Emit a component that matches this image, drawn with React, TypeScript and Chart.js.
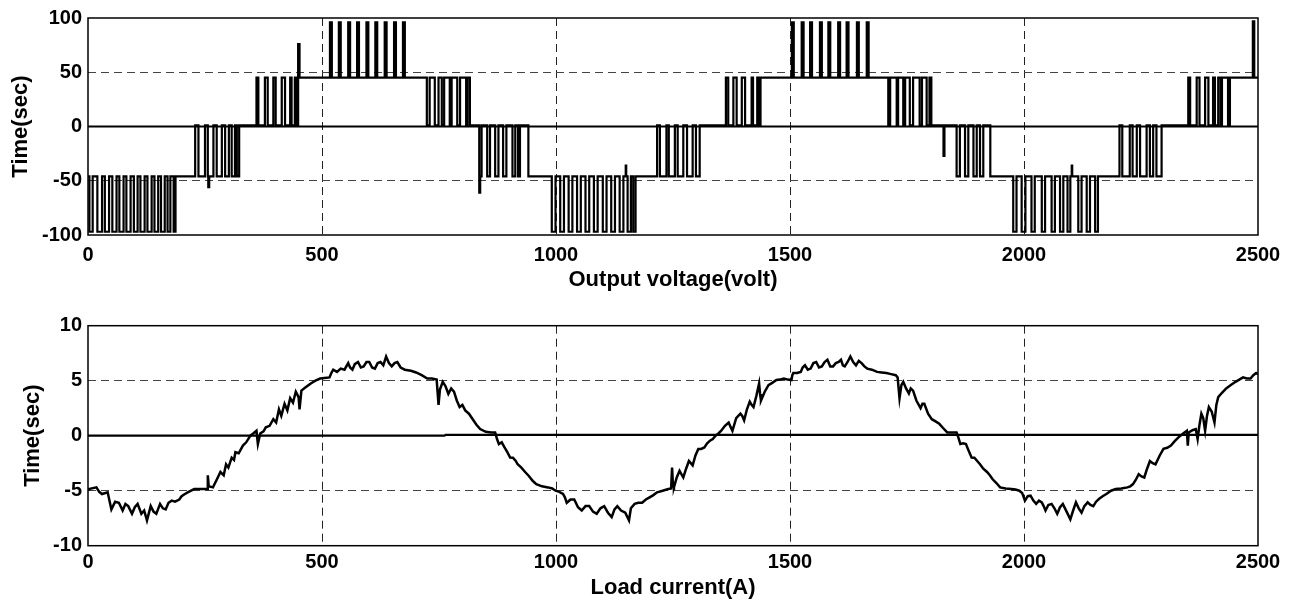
import React, { useEffect, useRef } from "react";
import Chart from "chart.js/auto";

// ---------- data ----------
const xTicks = [0, 500, 1000, 1500, 2000, 2500];
const voltageTicks = [-100, -50, 0, 50, 100];
const currentTicks = [-10, -5, 0, 5, 10];

const topXTitle = "Output voltage(volt)";
const bottomXTitle = "Load current(A)";
const yTitle = "Time(sec)";

// [time, level from this time on]
const voltageSteps: [number, number][] = [
  [0, -46],
  [3, -97], [10, -46], [20, -97], [30, -46], [36, -97], [45, -46], [52, -97], [61, -46], [67, -97], [76, -46],
  [82, -97], [91, -46], [98, -97], [106, -46], [112, -97], [121, -46], [127, -97], [136, -46], [142, -97], [150, -46],
  [156, -97], [164, -46], [170, -97], [176, -46], [183, -97], [187, -46],
  [229, 1], [236, -46], [250, 1], [256, -46], [257, -56], [259, -46], [268, 1], [275, -46], [286, 1], [293, -46],
  [301, 1], [307, -46], [314, 1], [318, -46], [323, 1],
  [360, 45], [364, 1], [378, 45], [384, 1], [396, 45], [401, 1], [414, 45], [421, 1], [432, 45], [435, 1],
  [442, 45], [446, 1], [449, 76], [452, 45],
  [517, 96], [521, 45], [536, 96], [540, 45], [556, 96], [560, 45], [575, 96], [579, 45], [595, 96], [599, 45],
  [614, 96], [618, 45], [634, 96], [638, 45], [654, 96], [658, 45], [673, 96], [677, 45],
  [724, 1], [730, 45], [741, 1], [749, 45], [756, 1], [761, 45], [773, 1], [777, 45], [789, 1], [795, 45],
  [808, 1], [811, 45], [816, 1],
  [836, -61], [838, -46], [841, 1], [853, -46], [859, 1], [870, -46], [877, 1], [887, -46], [894, 1], [907, -46],
  [913, 1], [919, -46], [923, 1], [941, -46],
  [991, -97], [999, -46], [1009, -97], [1017, -46], [1027, -97], [1035, -46], [1045, -97], [1053, -46],
  [1063, -97], [1071, -46], [1081, -97], [1089, -46], [1100, -97], [1108, -46], [1118, -97], [1126, -46],
  [1136, -97], [1144, -46], [1149, -36], [1150, -46], [1153, -97], [1160, -46], [1165, -97], [1170, -46],
  [1216, 1], [1222, -46], [1236, 1], [1241, -46], [1254, 1], [1260, -46], [1272, 1], [1280, -46], [1292, 1],
  [1299, -46], [1307, 1],
  [1363, 45], [1368, 1], [1379, 45], [1386, 1], [1397, 45], [1404, 1], [1418, 45], [1421, 1], [1430, 45],
  [1434, 1], [1437, 45],
  [1504, 96], [1508, 45], [1525, 96], [1529, 45], [1543, 96], [1547, 45], [1564, 96], [1568, 45], [1582, 96],
  [1586, 45], [1603, 96], [1607, 45], [1621, 96], [1625, 45], [1643, 96], [1647, 45], [1664, 96], [1668, 45],
  [1710, 1], [1714, 45], [1728, 1], [1731, 45], [1742, 1], [1746, 45], [1756, 1], [1763, 45], [1777, 1],
  [1782, 45], [1792, 1], [1798, 45], [1802, 1],
  [1828, -27], [1830, 1],
  [1856, -46], [1863, 1], [1874, -46], [1881, 1], [1892, -46], [1899, 1], [1906, -46], [1913, 1], [1928, -46],
  [1977, -97], [1984, -46], [1995, -97], [2003, -46], [2016, -97], [2023, -46], [2038, -97], [2045, -46],
  [2059, -97], [2066, -46], [2077, -97], [2084, -46], [2093, -97], [2099, -46], [2102, -36], [2103, -46],
  [2116, -97], [2123, -46], [2134, -97], [2141, -46], [2152, -97], [2158, -46],
  [2204, 1], [2210, -46], [2226, 1], [2232, -46], [2241, 1], [2248, -46], [2262, 1], [2269, -46], [2276, 1],
  [2283, -46], [2294, 1],
  [2351, 45], [2355, 1], [2369, 45], [2375, 1], [2387, 45], [2394, 1], [2404, 45], [2408, 1], [2415, 45],
  [2420, 1], [2423, 45], [2436, 1], [2440, 45], [2489, 97], [2492, 45], [2500, 45],
];

const voltageZeroRef: [number, number][] = [[0, 0], [2500, 0]];

const currentPoints: [number, number][] = [
  [0, -4.9], [2, -4.85], [18, -4.7], [24, -5.1], [30, -5.3], [42, -5.15], [50, -6.7], [58, -6.0], [66, -6.1],
  [74, -6.8], [80, -6.2], [86, -6.4], [94, -7.1], [100, -6.5], [106, -6.2], [114, -7.1], [120, -6.8], [126, -7.7],
  [134, -6.4], [140, -6.9], [146, -7.1], [154, -6.2], [160, -6.6], [166, -6.7], [172, -6.1], [179, -5.9],
  [186, -6.0], [195, -5.8], [200, -5.5], [207, -5.3], [215, -5.1], [227, -4.85], [240, -4.85], [255, -4.85],
  [256, -3.6], [258, -4.6], [267, -4.7], [275, -4.0], [283, -3.3], [290, -3.6], [295, -2.6], [300, -2.9],
  [307, -2.0], [312, -2.2], [315, -1.5], [322, -1.6], [331, -0.9], [338, -0.6], [347, 0], [353, 0.2],
  [360, 0.45], [363, -0.76], [368, 0.2], [375, 0.4], [380, 0.76], [388, 0.9], [396, 1.5], [402, 1.2],
  [408, 2.4], [413, 1.8], [420, 2.9], [426, 2.3], [432, 3.4], [438, 3.0], [444, 4.0], [450, 3.5], [452, 2.4],
  [456, 4.1], [465, 4.4], [476, 4.75], [486, 5.0], [496, 5.2], [505, 5.25], [516, 5.3], [520, 5.7], [524, 6.0],
  [532, 5.8], [540, 6.1], [548, 6.0], [556, 6.6], [560, 6.2], [565, 6.0], [570, 6.5], [577, 6.7], [583, 6.2],
  [589, 6.3], [595, 6.7], [601, 6.7], [607, 6.2], [613, 6.1], [619, 6.6], [625, 6.7], [631, 6.4], [637, 7.2],
  [643, 6.6], [649, 6.3], [655, 6.6], [661, 6.7], [668, 6.2], [677, 6.0], [690, 5.9], [701, 5.75], [713, 5.5],
  [725, 5.2], [735, 5.2], [745, 5.1], [749, 2.8], [752, 4.2], [758, 4.9], [764, 4.5], [770, 3.8], [776, 4.3],
  [782, 4.0], [788, 3.2], [794, 2.6], [800, 2.8], [806, 2.3], [814, 2.0], [822, 1.5], [830, 1.0], [838, 0.6],
  [850, 0.35], [862, 0.3], [870, 0.3], [874, -0.3], [878, -0.76], [884, -0.6], [890, -1.07], [896, -1.5],
  [902, -1.98], [908, -2.0], [914, -2.3], [918, -2.6], [926, -2.9], [934, -3.3], [942, -3.66], [950, -4.1],
  [958, -4.4], [970, -4.6], [983, -4.7], [992, -4.8], [999, -5.0], [1007, -5.1], [1015, -5.3], [1019, -5.6],
  [1023, -6.1], [1031, -5.8], [1039, -5.8], [1047, -6.5], [1055, -6.8], [1063, -6.4], [1071, -6.4],
  [1079, -6.9], [1087, -7.1], [1095, -6.6], [1103, -6.4], [1111, -7.0], [1119, -7.4], [1125, -6.7],
  [1131, -6.4], [1139, -6.8], [1148, -7.0], [1156, -7.7], [1160, -6.6], [1168, -6.2], [1176, -6.1],
  [1184, -6.1], [1192, -5.8], [1200, -5.6], [1208, -5.4], [1216, -5.15], [1228, -5.0], [1240, -4.85],
  [1246, -4.8], [1248, -2.9], [1250, -4.6], [1252, -4.7], [1258, -3.8], [1264, -3.2], [1272, -3.8],
  [1278, -3.0], [1284, -2.3], [1292, -2.7], [1298, -1.8], [1304, -1.2], [1310, -1.2], [1317, -1.07],
  [1323, -0.7], [1329, -0.45], [1335, -0.3], [1341, 0], [1347, 0.2], [1353, 0.45], [1361, 0.9], [1369, 1.2],
  [1373, 0.8], [1377, 0.45], [1385, 1.6], [1394, 2.0], [1398, 1.8], [1402, 1.4], [1408, 2.4], [1414, 3.1],
  [1418, 2.8], [1422, 2.6], [1428, 3.6], [1434, 4.75], [1436, 3.8], [1438, 3.2], [1446, 4.0], [1454, 4.6],
  [1462, 4.8], [1471, 5.06], [1478, 5.1], [1487, 5.2], [1495, 5.1], [1503, 5.06], [1505, 5.5], [1507, 5.7],
  [1515, 5.7], [1523, 5.8], [1527, 6.2], [1532, 6.4], [1538, 6.0], [1544, 6.1], [1550, 6.6], [1556, 6.7],
  [1562, 6.2], [1568, 6.3], [1574, 6.7], [1580, 6.9], [1586, 6.3], [1592, 6.3], [1598, 6.6], [1604, 6.7],
  [1609, 6.9], [1613, 6.4], [1617, 6.3], [1623, 6.7], [1629, 7.2], [1635, 6.7], [1641, 6.4], [1647, 6.8],
  [1653, 6.6], [1659, 6.3], [1665, 6.1], [1675, 6.0], [1686, 5.8], [1696, 5.75], [1706, 5.7], [1716, 5.6],
  [1726, 5.5], [1730, 5.3], [1734, 3.4], [1738, 4.6], [1742, 4.9], [1748, 4.3], [1754, 3.84], [1758, 4.3],
  [1763, 4.1], [1770, 3.2], [1779, 2.5], [1783, 2.9], [1787, 2.9], [1795, 2.0], [1803, 1.5], [1811, 1.3],
  [1819, 1.08], [1827, 0.7], [1836, 0.3], [1846, 0.3], [1856, 0.3], [1860, -0.2], [1864, -0.76],
  [1870, -0.7], [1876, -0.76], [1882, -1.4], [1888, -1.98], [1894, -2.0], [1900, -2.3], [1906, -2.6],
  [1913, -3.0], [1921, -3.3], [1927, -3.6], [1933, -3.96], [1941, -4.3], [1949, -4.7], [1961, -4.8],
  [1973, -4.85], [1982, -4.9], [1990, -5.0], [1996, -5.2], [2002, -5.9], [2008, -5.5], [2014, -5.45],
  [2020, -5.9], [2026, -6.2], [2032, -5.9], [2038, -6.06], [2042, -6.4], [2046, -6.8], [2052, -6.3],
  [2059, -6.2], [2065, -6.6], [2071, -7.1], [2077, -6.5], [2083, -6.2], [2091, -6.9], [2099, -7.6],
  [2105, -6.8], [2111, -6.06], [2117, -6.6], [2123, -7.0], [2129, -6.4], [2136, -6.06], [2142, -6.3],
  [2148, -6.4], [2154, -6.0], [2160, -5.76], [2168, -5.5], [2176, -5.3], [2186, -5.0], [2196, -4.85],
  [2208, -4.8], [2221, -4.7], [2227, -4.6], [2233, -4.4], [2239, -4.0], [2245, -3.5], [2251, -3.7],
  [2257, -3.8], [2263, -3.0], [2269, -2.3], [2275, -2.5], [2281, -2.6], [2290, -1.8], [2298, -1.2],
  [2306, -1.1], [2314, -0.9], [2322, -0.5], [2330, -0.15], [2340, 0.2], [2348, 0.45], [2350, -0.9],
  [2352, 0.3], [2360, 0.5], [2367, 0.6], [2371, -0.3], [2375, 1.0], [2379, 2.0], [2383, 1.6], [2387, 0.45],
  [2391, 1.8], [2395, 2.6], [2401, 2.2], [2407, 1.2], [2411, 2.8], [2415, 3.5], [2423, 3.9], [2432, 4.3],
  [2442, 4.6], [2452, 4.9], [2460, 5.1], [2468, 5.3], [2476, 5.2], [2484, 5.2], [2490, 5.5], [2496, 5.7],
  [2500, 5.6],
];

const currentZeroRef: [number, number][] = [[0, 0], [762, 0], [764, 0.08], [2500, 0.08]];

// ---------- chart helpers ----------
const FONT_FAMILY = "'Liberation Sans', Arial, Helvetica, sans-serif";

const framePlugin = {
  id: "frame",
  afterDraw(chart: any) {
    const { ctx, chartArea: a } = chart;
    ctx.save();
    ctx.strokeStyle = "#000";
    ctx.lineWidth = 1.5;
    ctx.strokeRect(a.left, a.top, a.right - a.left, a.bottom - a.top);
    ctx.restore();
  },
};

type PanelProps = {
  width: number;
  height: number;
  trace: [number, number][];
  zero: [number, number][];
  stepped: boolean;
  traceWidth: number;
  yTicks: number[];
  xTitle: string;
  plotTop: number;
  plotBottom: number;
  xTickPad: number;
  xTitlePadBottom: number;
  yTitlePadTop: number;
};

function Panel(p: PanelProps) {
  const ref = useRef<HTMLCanvasElement | null>(null);
  useEffect(() => {
    if (!ref.current) return;
    const yMin = p.yTicks[0];
    const yMax = p.yTicks[p.yTicks.length - 1];
    const xMin = xTicks[0];
    const xMax = xTicks[xTicks.length - 1];
    const gridColor = (isX: boolean) => (c: any) => {
      const v = c.tick ? c.tick.value : 0;
      if (isX) return v === xMin || v === xMax ? "rgba(0,0,0,0)" : "#222";
      return v === yMin || v === yMax || v === 0 ? "rgba(0,0,0,0)" : "#444";
    };
    const chart = new Chart(ref.current, {
      type: "line",
      data: {
        datasets: [
          {
            data: p.zero.map(([x, y]) => ({ x, y })),
            borderColor: "#000",
            borderWidth: 2.2,
            pointRadius: 0,
            tension: 0,
          },
          {
            data: p.trace.map(([x, y]) => ({ x, y })),
            borderColor: "#000",
            borderWidth: p.traceWidth,
            pointRadius: 0,
            tension: 0,
            stepped: p.stepped ? "before" : false,
          },
        ],
      },
      options: {
        animation: false,
        responsive: false,
        devicePixelRatio: 1,
        events: [],
        layout: { padding: { top: p.plotTop, right: 38, left: 0, bottom: 0 } },
        plugins: { legend: { display: false }, tooltip: { enabled: false }, title: { display: false } },
        scales: {
          x: {
            type: "linear",
            min: xMin,
            max: xMax,
            afterBuildTicks: (s: any) => {
              s.ticks = xTicks.map((v) => ({ value: v }));
            },
            afterFit: (s: any) => {
              s.height = p.height - p.plotBottom;
            },
            ticks: {
              color: "#000",
              padding: p.xTickPad,
              maxRotation: 0,
              autoSkip: false,
              callback: (v: any) => String(v),
              font: { family: FONT_FAMILY, size: 20, weight: "bold" },
            },
            grid: { color: gridColor(true), lineWidth: 1, drawTicks: false },
            border: { display: false, dash: [8, 5] },
            title: {
              display: true,
              text: p.xTitle,
              color: "#000",
              padding: { top: 0, bottom: p.xTitlePadBottom },
              font: { family: FONT_FAMILY, size: 22, weight: "bold" },
            },
          },
          y: {
            type: "linear",
            min: yMin,
            max: yMax,
            afterBuildTicks: (s: any) => {
              s.ticks = p.yTicks.map((v) => ({ value: v }));
            },
            afterFit: (s: any) => {
              s.width = 88;
            },
            ticks: {
              color: "#000",
              padding: 6,
              autoSkip: false,
              callback: (v: any) => String(v),
              font: { family: FONT_FAMILY, size: 20, weight: "bold" },
            },
            grid: { color: gridColor(false), lineWidth: 1, drawTicks: false },
            border: { display: false, dash: [8, 5] },
            title: {
              display: true,
              text: yTitle,
              color: "#000",
              padding: { top: p.yTitlePadTop, bottom: 0 },
              font: { family: FONT_FAMILY, size: 22, weight: "bold" },
            },
          },
        },
      } as any,
      plugins: [framePlugin],
    });
    return () => chart.destroy();
  }, []);
  return <canvas ref={ref} width={p.width} height={p.height} style={{ display: "block" }} />;
}

export default function App() {
  return (
    <div style={{ position: "absolute", left: 0, top: 0, width: 1296, height: 604, background: "#fff" }}>
      <Panel
        width={1296}
        height={300}
        trace={voltageSteps}
        zero={voltageZeroRef}
        stepped={true}
        traceWidth={2.2}
        yTicks={voltageTicks}
        xTitle={topXTitle}
        plotTop={15.5}
        plotBottom={235}
        xTickPad={8}
        xTitlePadBottom={6.8}
        yTitlePadTop={7.8}
      />
      <Panel
        width={1296}
        height={304}
        trace={currentPoints}
        zero={currentZeroRef}
        stepped={false}
        traceWidth={2.5}
        yTicks={currentTicks}
        xTitle={bottomXTitle}
        plotTop={25.7}
        plotBottom={245.7}
        xTickPad={4.8}
        xTitlePadBottom={2.8}
        yTitlePadTop={19.3}
      />
    </div>
  );
}
